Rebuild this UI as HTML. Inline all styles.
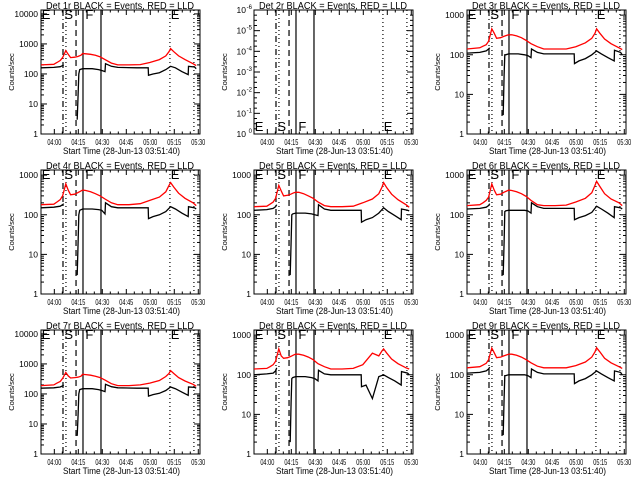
<!DOCTYPE html>
<html><head><meta charset="utf-8"><style>
html,body{margin:0;padding:0;background:#fff;}
svg{display:block;font-family:"Liberation Sans",sans-serif;}
</style></head><body>
<svg id="fig" width="640" height="480" viewBox="0 0 640 480"></svg>
<script>
// Time axis: minutes after 03:51:40
const xTickLabels = ["04:00","04:15","04:30","04:45","05:00","05:15","05:30"];
const xTickMinutes = [8.33,23.33,38.33,53.33,68.33,83.33,98.33];
const markerMinutes = [13.75,15.6,21.9,26.25,37.5,80.6,95.6];
const markerStyles = ["dashdot","dot","dash","solid","solid","dot","dot"];
const redTimes = [0,8,10,12,13.5,15.5,17,18.5,21,23,25,26,28,31,34,37,40,44,48,55,62,68,74,78,80,81,83,86,90,95,97];
const blackTimes = [0,8,12,13.5,14.2,14.3,22.6,23.2,23.6,24.2,26,32,36,38,40,40.3,44,48,60,67,67.2,70,74,78,81,84,88,92,92.2,96,97];
const detNames = ["1r","2r","3r","4r","5r","6r","7r","8r","9r"];
const yTopDecade = [4,null,3,3,3,3,4,3,3];
const red1 = [200,210,240,280,350,600,450,350,360,380,420,480,470,450,420,370,300,230,200,200,205,240,300,400,550,700,550,400,300,220,190];
const black1 = [160,165,175,190,200,null,3,20,100,140,150,150,140,130,120,220,180,165,160,160,90,100,110,140,180,160,120,95,180,170,150];
const red3 = [140,150,165,180,220,450,350,260,270,290,310,320,320,300,270,230,190,160,140,140,140,160,200,260,350,450,350,250,190,150,135];
const black3 = [110,115,125,140,150,null,3,30,100,100,105,105,100,95,85,140,115,105,105,105,60,70,80,100,125,105,85,70,130,115,100];
const red4 = [180,185,210,240,300,600,420,320,330,360,400,420,410,380,340,300,250,200,180,180,190,230,280,380,550,650,500,350,260,200,170];
const black4 = [150,155,165,180,190,null,3,20,100,130,140,140,135,130,105,200,160,150,150,150,80,90,100,120,160,140,110,90,160,150,140];
const red5 = [160,165,185,210,260,550,400,300,310,330,360,370,370,340,300,260,210,170,160,160,165,200,250,340,500,650,480,330,240,180,155];
const black5 = [130,135,145,160,180,null,3,20,100,105,110,110,105,100,95,180,140,130,130,130,65,75,85,110,150,120,95,75,140,130,125];
const red6 = [170,180,200,230,280,600,420,320,330,370,400,420,410,380,340,290,230,180,170,170,175,210,260,360,550,700,520,340,250,200,170];
const black6 = [140,145,155,170,190,null,3,20,120,125,130,130,130,125,110,200,160,145,145,145,75,85,95,115,165,140,110,85,160,150,140];
const red7 = [190,200,230,260,330,520,400,340,350,360,390,450,440,420,390,350,290,220,190,190,200,230,280,380,480,600,480,350,270,210,180];
const black7 = [155,160,170,185,200,null,4,20,100,140,150,150,140,130,120,210,175,160,155,155,85,95,105,130,170,150,115,90,170,165,155];
const red8 = [140,145,160,180,220,450,300,260,270,290,320,330,330,310,280,240,190,160,140,140,145,180,350,300,400,450,350,250,190,150,140];
const black8 = [100,105,110,125,150,null,2,20,80,85,90,90,85,80,70,130,105,100,100,100,50,55,25,90,100,85,70,55,120,110,100];
const red9 = [150,160,175,195,240,470,360,270,280,300,320,330,330,310,280,240,200,165,150,150,150,170,210,280,380,480,380,260,200,160,145];
const black9 = [110,115,125,140,155,null,3,25,95,95,100,100,100,95,85,140,115,105,105,105,60,70,80,100,125,105,85,70,125,115,100];
const redSeries = [red1,null,red3,red4,red5,red6,red7,red8,red9];
const blackSeries = [black1,null,black3,black4,black5,black6,black7,black8,black9];

const NS="http://www.w3.org/2000/svg";
const fig=document.getElementById('fig');
function mk(tag,attrs,parent){const e=document.createElementNS(NS,tag);for(const k in attrs)e.setAttribute(k,attrs[k]);(parent||fig).appendChild(e);return e;}
const T0=0,T1=99.4;
function dashFor(s){return s==="dash"?"6,4":s==="dot"?"1,3":s==="dashdot"?"6,3,1,3":"";}

for(let p=0;p<9;p++){
  const ox=(p%3)*213, oy=Math.floor(p/3)*160;
  const L=ox+41,R=ox+200,Tp=oy+10,B=oy+134;
  const g=mk('g',{});
  
  
  const xs=t=>L+(t-T0)/(T1-T0)*(R-L);
  let ys;
  if(yTopDecade[p]===null){ ys=null; }
  else { const top=yTopDecade[p]+0.13; ys=v=>B-Math.log10(v)/top*(B-Tp); }
  const ti=mk('text',{x:ox+46,y:oy+9,'font-size':10,fill:'#000',textLength:148,lengthAdjust:'spacingAndGlyphs'},g);
  ti.textContent='Det '+detNames[p]+' BLACK = Events, RED = LLD';
  
  
  const bx=mk('rect',{x:L,y:Tp,width:R-L,height:B-Tp,fill:'none',stroke:'#000','stroke-width':1},g);
  
  
  for(let i=0;i<xTickMinutes.length;i++){
    const x=xs(xTickMinutes[i]);
    mk('line',{x1:x,x2:x,y1:B,y2:B-5,stroke:'#000'},g);
    mk('line',{x1:x,x2:x,y1:Tp,y2:Tp+5,stroke:'#000'},g);
    for(const d of [5,10]){const xm=xs(xTickMinutes[i]+d);if(xm<R){mk('line',{x1:xm,x2:xm,y1:B,y2:B-2.5,stroke:'#000'},g);mk('line',{x1:xm,x2:xm,y1:Tp,y2:Tp+2.5,stroke:'#000'},g);}}
    const lb=mk('text',{x:x-7,y:oy+145,'font-size':8,fill:'#000',textLength:14,lengthAdjust:'spacingAndGlyphs'},g);
    lb.textContent=xTickLabels[i];
    
    
  }
  const xt=mk('text',{x:ox+63,y:oy+154,'font-size':9,fill:'#000',textLength:117,lengthAdjust:'spacingAndGlyphs'},g);
  xt.textContent='Start Time (28-Jun-13 03:51:40)';
  
  
  const yt=mk('text',{x:0,y:0,'font-size':7.5,'text-anchor':'middle',fill:'#000',transform:'translate('+(ox+14)+','+(oy+72)+') rotate(-90)'},g);
  yt.textContent='Counts/sec';
  
  
  if(ys){
    for(let d=0;d<=yTopDecade[p];d++){
      const y=ys(Math.pow(10,d));
      mk('line',{x1:L,x2:L+6,y1:y,y2:y,stroke:'#000'},g);
      mk('line',{x1:R,x2:R-6,y1:y,y2:y,stroke:'#000'},g);
      const lb=mk('text',{x:L-3,y:y+3,'font-size':8.5,'text-anchor':'end',fill:'#000'},g);
      lb.textContent=String(Math.pow(10,d));
      
      
      for(let m=2;m<=9;m++){const v=m*Math.pow(10,d);const ym=ys(v);if(ym>=Tp){mk('line',{x1:L,x2:L+3,y1:ym,y2:ym,stroke:'#000'},g);mk('line',{x1:R,x2:R-3,y1:ym,y2:ym,stroke:'#000'},g);}}
    }
  } else {
    for(let d=0;d<=6;d++){
      const y=B-d*(B-Tp)/6;
      mk('line',{x1:L,x2:L+6,y1:y,y2:y,stroke:'#000'},g);
      mk('line',{x1:R,x2:R-6,y1:y,y2:y,stroke:'#000'},g);
      for(let m=1;m<4;m++){const ym=y-m*(B-Tp)/24;if(d<6){mk('line',{x1:L,x2:L+3,y1:ym,y2:ym,stroke:'#000'},g);mk('line',{x1:R,x2:R-3,y1:ym,y2:ym,stroke:'#000'},g);}}
      const lb=mk('text',{x:L-8,y:y+3,'font-size':8.5,'text-anchor':'end',fill:'#000'},g);
      lb.textContent='10';
      const sp=mk('tspan',{x:L-2,dy:-4,'font-size':6,'text-anchor':'end'},lb);
      sp.textContent=d===0?'0':'-'+d;
      
      
    }
  }
  for(let i=0;i<markerMinutes.length;i++){
    const x=xs(markerMinutes[i]);
    const ln=mk('line',{x1:x,x2:x,y1:Tp,y2:B,stroke:'#000','stroke-width':1.2},g);
    const da=dashFor(markerStyles[i]); if(da) ln.setAttribute('stroke-dasharray',da);
    
    
  }
  const letters=[["E",0.5],["S",markerMinutes[1]-1],["F",markerMinutes[3]+1.5],["E",markerMinutes[5]+0.5]];
  const ly = ys? Tp+9 : B-3;
  for(const [c,t] of letters){
    const lt=mk('text',{x:xs(t),y:ly,'font-size':13,fill:'#000'},g);
    lt.textContent=c;
    
    
  }
  if(ys){
    const clip=v=>Math.max(Tp,Math.min(B,ys(v)));
    const draw=(times,vals,color,name)=>{
      let d='',pen=false;
      for(let i=0;i<times.length;i++){
        if(vals[i]===null){pen=false;continue;}
        d+=(pen?'L':'M')+xs(times[i]).toFixed(1)+','+clip(vals[i]).toFixed(1);pen=true;
      }
      const pa=mk('path',{d:d,fill:'none',stroke:color,'stroke-width':1.3},g);
      
      
    };
    draw(redTimes,redSeries[p],'#ff0000','lld-series-red');
    draw(blackTimes,blackSeries[p],'#000000','events-series-black');
  }
}
</script>
</body></html>
